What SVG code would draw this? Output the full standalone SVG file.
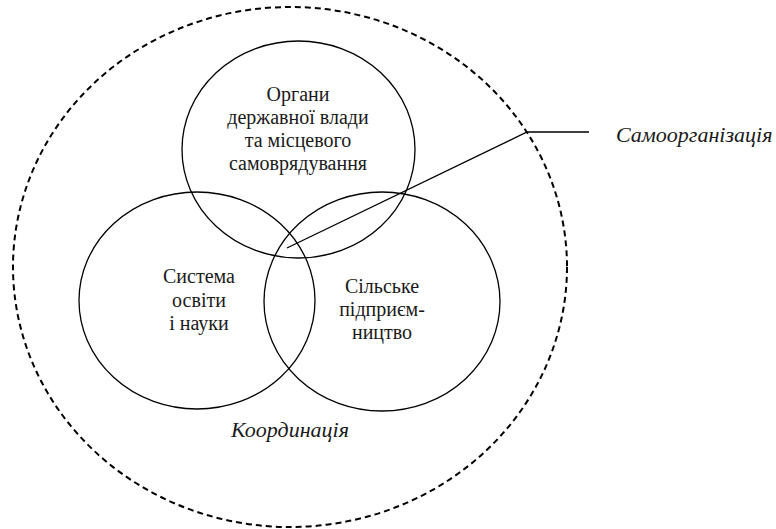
<svg xmlns="http://www.w3.org/2000/svg" width="776" height="529" viewBox="0 0 776 529">
<style>
.c{fill:none;stroke:#000;stroke-width:1.3}
.d{fill:none;stroke:#000;stroke-width:2;stroke-dasharray:6 4}
.t{font-family:"Liberation Serif","Times New Roman",serif;font-size:20px;fill:#1a1a1a;text-anchor:middle}
.i{font-style:italic;font-size:22px}
</style>
<rect width="776" height="529" fill="#fff"/>
<g id="outer"><ellipse class="d" cx="290" cy="267" rx="277" ry="260"/></g>
<g id="gov">
<ellipse class="c" cx="298.5" cy="149.5" rx="116.5" ry="108.5"/>
<text class="t" x="298" y="101">Органи</text>
<text class="t" x="298" y="124">державної влади</text>
<text class="t" x="298" y="147">та місцевого</text>
<text class="t" x="298" y="170">самоврядування</text>
</g>
<g id="edu">
<ellipse class="c" cx="197" cy="300.5" rx="118" ry="108.5"/>
<text class="t" x="199" y="283">Система</text>
<text class="t" x="199" y="307">освіти</text>
<text class="t" x="199" y="330">і науки</text>
</g>
<g id="biz">
<ellipse class="c" cx="382" cy="301.5" rx="118" ry="109.5"/>
<text class="t" x="382" y="293">Сільське</text>
<text class="t" x="382" y="316">підприєм-</text>
<text class="t" x="382" y="339">ництво</text>
</g>
<g id="coord"><text class="t i" x="290" y="437">Координація</text></g>
<g id="self"><text class="t i" x="616" y="142" style="text-anchor:start">Самоорганізація</text></g>
<g id="connectors">
<polyline class="c" points="287,248 527,132 589,132"/>
</g>
</svg>
